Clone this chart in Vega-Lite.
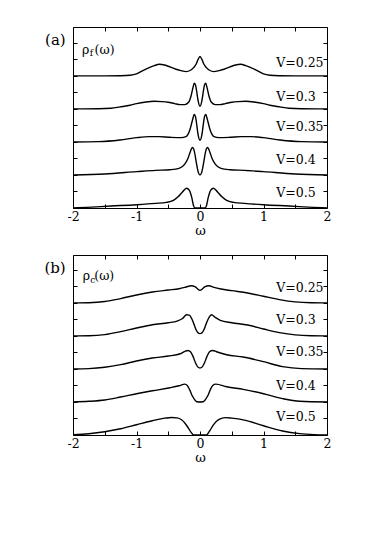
{
  "$schema": "https://vega.github.io/schema/vega-lite/v6.json",
  "autosize": {"type": "none"},
  "padding": {"left": 73, "top": 27, "right": 309, "bottom": 513},
  "background": "white",
  "config": {
    "view": {"stroke": null},
    "font": "DejaVu Serif",
    "text": {"font": "DejaVu Serif"},
    "axis": {
      "domainColor": "black", "domainWidth": 1, "tickColor": "black", "tickWidth": 1,
      "labelColor": "black", "titleColor": "black", "grid": false,
      "labelFont": "DejaVu Serif", "titleFont": "DejaVu Serif",
      "labelFontSize": 12.5, "titleFontSize": 13, "titleFontWeight": "normal",
      "tickSize": -4, "labelPadding": 6, "labelFlush": false, "labelOverlap": false, "labelBound": false
    }
  },
  "datasets": {
    "fcurves": [
      {"V":"0.25","w":-2,"y":4},{"V":"0.25","w":-1.5,"y":4},{"V":"0.25","w":-1.25,"y":4.005},{"V":"0.25","w":-1.1,"y":4.02},{"V":"0.25","w":-1.0,"y":4.06},{"V":"0.25","w":-0.9,"y":4.16},{"V":"0.25","w":-0.8,"y":4.25},{"V":"0.25","w":-0.72,"y":4.31},{"V":"0.25","w":-0.64,"y":4.35},{"V":"0.25","w":-0.56,"y":4.33},{"V":"0.25","w":-0.47,"y":4.27},{"V":"0.25","w":-0.38,"y":4.2},{"V":"0.25","w":-0.3,"y":4.16},{"V":"0.25","w":-0.22,"y":4.13},{"V":"0.25","w":-0.15,"y":4.17},{"V":"0.25","w":-0.1,"y":4.25},{"V":"0.25","w":-0.06,"y":4.36},{"V":"0.25","w":-0.03,"y":4.5},{"V":"0.25","w":0,"y":4.585},{"V":"0.25","w":0.03,"y":4.5},{"V":"0.25","w":0.06,"y":4.36},{"V":"0.25","w":0.1,"y":4.25},{"V":"0.25","w":0.15,"y":4.17},{"V":"0.25","w":0.22,"y":4.13},{"V":"0.25","w":0.3,"y":4.16},{"V":"0.25","w":0.38,"y":4.2},{"V":"0.25","w":0.47,"y":4.27},{"V":"0.25","w":0.56,"y":4.33},{"V":"0.25","w":0.64,"y":4.35},{"V":"0.25","w":0.72,"y":4.31},{"V":"0.25","w":0.8,"y":4.25},{"V":"0.25","w":0.9,"y":4.16},{"V":"0.25","w":1.0,"y":4.06},{"V":"0.25","w":1.1,"y":4.02},{"V":"0.25","w":1.25,"y":4.005},{"V":"0.25","w":1.5,"y":4},{"V":"0.25","w":2,"y":4},
      {"V":"0.3","w":-2,"y":3},{"V":"0.3","w":-1.6,"y":3.005},{"V":"0.3","w":-1.4,"y":3.02},{"V":"0.3","w":-1.26,"y":3.06},{"V":"0.3","w":-1.1,"y":3.11},{"V":"0.3","w":-1.0,"y":3.16},{"V":"0.3","w":-0.85,"y":3.21},{"V":"0.3","w":-0.72,"y":3.23},{"V":"0.3","w":-0.6,"y":3.22},{"V":"0.3","w":-0.5,"y":3.2},{"V":"0.3","w":-0.4,"y":3.16},{"V":"0.3","w":-0.31,"y":3.13},{"V":"0.3","w":-0.24,"y":3.13},{"V":"0.3","w":-0.18,"y":3.2},{"V":"0.3","w":-0.14,"y":3.4},{"V":"0.3","w":-0.11,"y":3.65},{"V":"0.3","w":-0.09,"y":3.78},{"V":"0.3","w":-0.07,"y":3.72},{"V":"0.3","w":-0.05,"y":3.5},{"V":"0.3","w":-0.03,"y":3.25},{"V":"0.3","w":0,"y":3.08},{"V":"0.3","w":0.03,"y":3.25},{"V":"0.3","w":0.05,"y":3.5},{"V":"0.3","w":0.07,"y":3.72},{"V":"0.3","w":0.09,"y":3.78},{"V":"0.3","w":0.11,"y":3.65},{"V":"0.3","w":0.14,"y":3.4},{"V":"0.3","w":0.18,"y":3.2},{"V":"0.3","w":0.24,"y":3.13},{"V":"0.3","w":0.31,"y":3.13},{"V":"0.3","w":0.4,"y":3.16},{"V":"0.3","w":0.5,"y":3.2},{"V":"0.3","w":0.6,"y":3.22},{"V":"0.3","w":0.72,"y":3.23},{"V":"0.3","w":0.85,"y":3.21},{"V":"0.3","w":1.0,"y":3.16},{"V":"0.3","w":1.1,"y":3.11},{"V":"0.3","w":1.26,"y":3.06},{"V":"0.3","w":1.4,"y":3.02},{"V":"0.3","w":1.6,"y":3.005},{"V":"0.3","w":2,"y":3},
      {"V":"0.35","w":-2,"y":2},{"V":"0.35","w":-1.6,"y":2.01},{"V":"0.35","w":-1.26,"y":2.06},{"V":"0.35","w":-1.0,"y":2.13},{"V":"0.35","w":-0.8,"y":2.16},{"V":"0.35","w":-0.65,"y":2.16},{"V":"0.35","w":-0.47,"y":2.14},{"V":"0.35","w":-0.3,"y":2.13},{"V":"0.35","w":-0.22,"y":2.16},{"V":"0.35","w":-0.16,"y":2.36},{"V":"0.35","w":-0.12,"y":2.65},{"V":"0.35","w":-0.09,"y":2.83},{"V":"0.35","w":-0.07,"y":2.76},{"V":"0.35","w":-0.05,"y":2.5},{"V":"0.35","w":-0.03,"y":2.22},{"V":"0.35","w":0,"y":2.05},{"V":"0.35","w":0.03,"y":2.22},{"V":"0.35","w":0.05,"y":2.5},{"V":"0.35","w":0.07,"y":2.76},{"V":"0.35","w":0.09,"y":2.83},{"V":"0.35","w":0.12,"y":2.65},{"V":"0.35","w":0.16,"y":2.36},{"V":"0.35","w":0.22,"y":2.16},{"V":"0.35","w":0.3,"y":2.13},{"V":"0.35","w":0.47,"y":2.14},{"V":"0.35","w":0.65,"y":2.16},{"V":"0.35","w":0.8,"y":2.16},{"V":"0.35","w":1.0,"y":2.13},{"V":"0.35","w":1.26,"y":2.06},{"V":"0.35","w":1.6,"y":2.01},{"V":"0.35","w":2,"y":2},
      {"V":"0.4","w":-2,"y":1},{"V":"0.4","w":-1.5,"y":1.03},{"V":"0.4","w":-1.0,"y":1.1},{"V":"0.4","w":-0.7,"y":1.14},{"V":"0.4","w":-0.47,"y":1.16},{"V":"0.4","w":-0.33,"y":1.2},{"V":"0.4","w":-0.24,"y":1.33},{"V":"0.4","w":-0.19,"y":1.5},{"V":"0.4","w":-0.15,"y":1.72},{"V":"0.4","w":-0.12,"y":1.83},{"V":"0.4","w":-0.09,"y":1.72},{"V":"0.4","w":-0.06,"y":1.4},{"V":"0.4","w":-0.03,"y":1.1},{"V":"0.4","w":0,"y":1.0},{"V":"0.4","w":0.03,"y":1.1},{"V":"0.4","w":0.06,"y":1.4},{"V":"0.4","w":0.09,"y":1.72},{"V":"0.4","w":0.12,"y":1.83},{"V":"0.4","w":0.15,"y":1.72},{"V":"0.4","w":0.19,"y":1.5},{"V":"0.4","w":0.24,"y":1.33},{"V":"0.4","w":0.33,"y":1.2},{"V":"0.4","w":0.47,"y":1.16},{"V":"0.4","w":0.7,"y":1.14},{"V":"0.4","w":1.0,"y":1.1},{"V":"0.4","w":1.5,"y":1.03},{"V":"0.4","w":2,"y":1},
      {"V":"0.5","w":-2,"y":0},{"V":"0.5","w":-1.78,"y":0.02},{"V":"0.5","w":-1.4,"y":0.06},{"V":"0.5","w":-1.0,"y":0.1},{"V":"0.5","w":-0.7,"y":0.14},{"V":"0.5","w":-0.53,"y":0.17},{"V":"0.5","w":-0.42,"y":0.23},{"V":"0.5","w":-0.35,"y":0.33},{"V":"0.5","w":-0.28,"y":0.48},{"V":"0.5","w":-0.21,"y":0.6},{"V":"0.5","w":-0.17,"y":0.54},{"V":"0.5","w":-0.13,"y":0.32},{"V":"0.5","w":-0.1,"y":0.06},{"V":"0.5","w":-0.08,"y":0},{"V":"0.5","w":0,"y":0},{"V":"0.5","w":0.08,"y":0},{"V":"0.5","w":0.1,"y":0.06},{"V":"0.5","w":0.13,"y":0.32},{"V":"0.5","w":0.17,"y":0.54},{"V":"0.5","w":0.21,"y":0.6},{"V":"0.5","w":0.28,"y":0.48},{"V":"0.5","w":0.35,"y":0.33},{"V":"0.5","w":0.42,"y":0.23},{"V":"0.5","w":0.53,"y":0.17},{"V":"0.5","w":0.7,"y":0.14},{"V":"0.5","w":1.0,"y":0.1},{"V":"0.5","w":1.4,"y":0.06},{"V":"0.5","w":1.78,"y":0.02},{"V":"0.5","w":2,"y":0}
    ],
    "ccurves": [
      {"V":"0.25","w":-2,"y":4},{"V":"0.25","w":-1.75,"y":4.005},{"V":"0.25","w":-1.5,"y":4.04},{"V":"0.25","w":-1.25,"y":4.13},{"V":"0.25","w":-1.0,"y":4.24},{"V":"0.25","w":-0.75,"y":4.33},{"V":"0.25","w":-0.5,"y":4.39},{"V":"0.25","w":-0.33,"y":4.43},{"V":"0.25","w":-0.22,"y":4.48},{"V":"0.25","w":-0.14,"y":4.52},{"V":"0.25","w":-0.08,"y":4.49},{"V":"0.25","w":-0.03,"y":4.41},{"V":"0.25","w":0,"y":4.38},{"V":"0.25","w":0.03,"y":4.41},{"V":"0.25","w":0.08,"y":4.49},{"V":"0.25","w":0.14,"y":4.52},{"V":"0.25","w":0.22,"y":4.47},{"V":"0.25","w":0.33,"y":4.42},{"V":"0.25","w":0.5,"y":4.37},{"V":"0.25","w":0.75,"y":4.3},{"V":"0.25","w":1.0,"y":4.2},{"V":"0.25","w":1.25,"y":4.1},{"V":"0.25","w":1.5,"y":4.03},{"V":"0.25","w":1.75,"y":4.005},{"V":"0.25","w":2,"y":4},
      {"V":"0.3","w":-2,"y":3},{"V":"0.3","w":-1.75,"y":3.005},{"V":"0.3","w":-1.5,"y":3.04},{"V":"0.3","w":-1.25,"y":3.13},{"V":"0.3","w":-1.0,"y":3.24},{"V":"0.3","w":-0.75,"y":3.34},{"V":"0.3","w":-0.5,"y":3.4},{"V":"0.3","w":-0.36,"y":3.45},{"V":"0.3","w":-0.28,"y":3.52},{"V":"0.3","w":-0.21,"y":3.64},{"V":"0.3","w":-0.17,"y":3.63},{"V":"0.3","w":-0.13,"y":3.52},{"V":"0.3","w":-0.1,"y":3.38},{"V":"0.3","w":-0.06,"y":3.18},{"V":"0.3","w":-0.03,"y":3.09},{"V":"0.3","w":0,"y":3.07},{"V":"0.3","w":0.03,"y":3.09},{"V":"0.3","w":0.06,"y":3.18},{"V":"0.3","w":0.1,"y":3.38},{"V":"0.3","w":0.14,"y":3.55},{"V":"0.3","w":0.18,"y":3.64},{"V":"0.3","w":0.24,"y":3.56},{"V":"0.3","w":0.32,"y":3.47},{"V":"0.3","w":0.5,"y":3.4},{"V":"0.3","w":0.75,"y":3.33},{"V":"0.3","w":1.0,"y":3.21},{"V":"0.3","w":1.25,"y":3.1},{"V":"0.3","w":1.5,"y":3.03},{"V":"0.3","w":1.75,"y":3.005},{"V":"0.3","w":2,"y":3},
      {"V":"0.35","w":-2,"y":2},{"V":"0.35","w":-1.75,"y":2.01},{"V":"0.35","w":-1.5,"y":2.05},{"V":"0.35","w":-1.25,"y":2.13},{"V":"0.35","w":-1.0,"y":2.24},{"V":"0.35","w":-0.75,"y":2.33},{"V":"0.35","w":-0.5,"y":2.39},{"V":"0.35","w":-0.31,"y":2.46},{"V":"0.35","w":-0.24,"y":2.53},{"V":"0.35","w":-0.19,"y":2.56},{"V":"0.35","w":-0.15,"y":2.52},{"V":"0.35","w":-0.11,"y":2.38},{"V":"0.35","w":-0.07,"y":2.18},{"V":"0.35","w":-0.03,"y":2.05},{"V":"0.35","w":0,"y":2.03},{"V":"0.35","w":0.03,"y":2.05},{"V":"0.35","w":0.07,"y":2.18},{"V":"0.35","w":0.11,"y":2.38},{"V":"0.35","w":0.15,"y":2.52},{"V":"0.35","w":0.2,"y":2.56},{"V":"0.35","w":0.26,"y":2.52},{"V":"0.35","w":0.42,"y":2.43},{"V":"0.35","w":0.68,"y":2.36},{"V":"0.35","w":1.0,"y":2.22},{"V":"0.35","w":1.3,"y":2.07},{"V":"0.35","w":1.6,"y":2.01},{"V":"0.35","w":2,"y":2},
      {"V":"0.4","w":-2,"y":1},{"V":"0.4","w":-1.75,"y":1.02},{"V":"0.4","w":-1.5,"y":1.06},{"V":"0.4","w":-1.25,"y":1.15},{"V":"0.4","w":-1.0,"y":1.25},{"V":"0.4","w":-0.75,"y":1.34},{"V":"0.4","w":-0.47,"y":1.43},{"V":"0.4","w":-0.33,"y":1.49},{"V":"0.4","w":-0.24,"y":1.54},{"V":"0.4","w":-0.2,"y":1.5},{"V":"0.4","w":-0.16,"y":1.36},{"V":"0.4","w":-0.12,"y":1.18},{"V":"0.4","w":-0.08,"y":1.06},{"V":"0.4","w":-0.05,"y":1.005},{"V":"0.4","w":0,"y":1},{"V":"0.4","w":0.05,"y":1.005},{"V":"0.4","w":0.08,"y":1.06},{"V":"0.4","w":0.12,"y":1.18},{"V":"0.4","w":0.16,"y":1.36},{"V":"0.4","w":0.2,"y":1.5},{"V":"0.4","w":0.25,"y":1.54},{"V":"0.4","w":0.42,"y":1.46},{"V":"0.4","w":0.68,"y":1.38},{"V":"0.4","w":1.0,"y":1.25},{"V":"0.4","w":1.3,"y":1.1},{"V":"0.4","w":1.57,"y":1.02},{"V":"0.4","w":2,"y":1},
      {"V":"0.5","w":-2,"y":0.01},{"V":"0.5","w":-1.75,"y":0.04},{"V":"0.5","w":-1.5,"y":0.1},{"V":"0.5","w":-1.25,"y":0.19},{"V":"0.5","w":-1.0,"y":0.31},{"V":"0.5","w":-0.75,"y":0.43},{"V":"0.5","w":-0.55,"y":0.51},{"V":"0.5","w":-0.45,"y":0.53},{"V":"0.5","w":-0.36,"y":0.52},{"V":"0.5","w":-0.29,"y":0.46},{"V":"0.5","w":-0.23,"y":0.34},{"V":"0.5","w":-0.18,"y":0.2},{"V":"0.5","w":-0.14,"y":0.08},{"V":"0.5","w":-0.11,"y":0.01},{"V":"0.5","w":-0.1,"y":0},{"V":"0.5","w":0,"y":0},{"V":"0.5","w":0.1,"y":0},{"V":"0.5","w":0.12,"y":0.03},{"V":"0.5","w":0.16,"y":0.15},{"V":"0.5","w":0.22,"y":0.33},{"V":"0.5","w":0.3,"y":0.47},{"V":"0.5","w":0.4,"y":0.525},{"V":"0.5","w":0.5,"y":0.51},{"V":"0.5","w":0.7,"y":0.45},{"V":"0.5","w":1.0,"y":0.28},{"V":"0.5","w":1.3,"y":0.12},{"V":"0.5","w":1.57,"y":0.04},{"V":"0.5","w":1.8,"y":0.01},{"V":"0.5","w":2,"y":0}
    ]
  },
  "spacing": 47,
  "bounds": "flush",
  "vconcat": [
    {
      "width": 254, "height": 181,
      "resolve": {"axis": {"x": "independent", "y": "independent"}},
      "layer": [
        {
          "data": {"name": "fcurves"},
          "mark": {"type": "line", "interpolate": "monotone", "color": "black", "strokeWidth": 1.4},
          "encoding": {
            "x": {"field": "w", "type": "quantitative", "scale": {"domain": [-2, 2], "nice": false, "zero": false},
                  "axis": {"orient": "bottom", "title": "ω", "titlePadding": 2, "values": [-2,-1.5,-1,-0.5,0,0.5,1,1.5,2],
                           "labelExpr": "datum.value % 1 === 0 ? (datum.value < 0 ? '-' + abs(datum.value) : '' + datum.value) : ''"}},
            "y": {"field": "y", "type": "quantitative", "scale": {"domain": [0, 5.48], "nice": false, "zero": false},
                  "axis": {"orient": "left", "title": null, "labels": false, "values": [0.5,1,1.5,2,2.5,3,3.5,4,4.5,5]}},
            "detail": {"field": "V", "type": "nominal"}
          }
        },
        {
          "data": {"values": [
            {"w": 1.2, "y": 4.39, "label": "V=0.25"},
            {"w": 1.2, "y": 3.37, "label": "V=0.3"},
            {"w": 1.2, "y": 2.45, "label": "V=0.35"},
            {"w": 1.2, "y": 1.45, "label": "V=0.4"},
            {"w": 1.2, "y": 0.46, "label": "V=0.5"}
          ]},
          "mark": {"type": "text", "align": "left", "baseline": "middle", "fontSize": 12.5, "font": "DejaVu Serif", "color": "black"},
          "encoding": {
            "x": {"field": "w", "type": "quantitative", "scale": {"domain": [-2, 2], "nice": false, "zero": false},
                  "axis": {"orient": "top", "title": null, "labels": false, "values": [-2,-1.5,-1,-0.5,0,0.5,1,1.5,2]}},
            "y": {"field": "y", "type": "quantitative", "scale": {"domain": [0, 5.48], "nice": false, "zero": false},
                  "axis": {"orient": "right", "title": null, "labels": false, "values": [0.5,1,1.5,2,2.5,3,3.5,4,4.5,5]}},
            "text": {"field": "label"}
          }
        },
        {
          "data": {"values": [{"w": -2.115, "y": 5.09, "label": "(a)"}]},
          "mark": {"type": "text", "align": "right", "baseline": "middle", "fontSize": 15, "font": "DejaVu Serif", "color": "black"},
          "encoding": {
            "x": {"field": "w", "type": "quantitative", "scale": {"domain": [-2, 2], "nice": false, "zero": false}, "axis": null},
            "y": {"field": "y", "type": "quantitative", "scale": {"domain": [0, 5.48], "nice": false, "zero": false}, "axis": null},
            "text": {"field": "label"}
          }
        },
        {
          "data": {"values": [{"w": -1.86, "y": 4.79, "label": "ρ"}, {"w": -1.66, "y": 4.79, "label": "(ω)"}]},
          "mark": {"type": "text", "align": "left", "baseline": "middle", "fontSize": 12.5, "font": "DejaVu Serif", "color": "black"},
          "encoding": {
            "x": {"field": "w", "type": "quantitative", "scale": {"domain": [-2, 2], "nice": false, "zero": false}, "axis": null},
            "y": {"field": "y", "type": "quantitative", "scale": {"domain": [0, 5.48], "nice": false, "zero": false}, "axis": null},
            "text": {"field": "label"}
          }
        },
        {
          "data": {"values": [{"w": -1.735, "y": 4.69, "label": "f"}]},
          "mark": {"type": "text", "align": "left", "baseline": "middle", "fontSize": 9, "font": "DejaVu Serif", "color": "black"},
          "encoding": {
            "x": {"field": "w", "type": "quantitative", "scale": {"domain": [-2, 2], "nice": false, "zero": false}, "axis": null},
            "y": {"field": "y", "type": "quantitative", "scale": {"domain": [0, 5.48], "nice": false, "zero": false}, "axis": null},
            "text": {"field": "label"}
          }
        }
      ]
    },
    {
      "width": 254, "height": 180,
      "resolve": {"axis": {"x": "independent", "y": "independent"}},
      "layer": [
        {
          "data": {"name": "ccurves"},
          "mark": {"type": "line", "interpolate": "monotone", "color": "black", "strokeWidth": 1.4},
          "encoding": {
            "x": {"field": "w", "type": "quantitative", "scale": {"domain": [-2, 2], "nice": false, "zero": false},
                  "axis": {"orient": "bottom", "title": "ω", "titlePadding": 2, "values": [-2,-1.5,-1,-0.5,0,0.5,1,1.5,2],
                           "labelExpr": "datum.value % 1 === 0 ? (datum.value < 0 ? '-' + abs(datum.value) : '' + datum.value) : ''"}},
            "y": {"field": "y", "type": "quantitative", "scale": {"domain": [0, 5.45], "nice": false, "zero": false},
                  "axis": {"orient": "left", "title": null, "labels": false, "values": [0.5,1,1.5,2,2.5,3,3.5,4,4.5,5]}},
            "detail": {"field": "V", "type": "nominal"}
          }
        },
        {
          "data": {"values": [
            {"w": 1.2, "y": 4.45, "label": "V=0.25"},
            {"w": 1.2, "y": 3.48, "label": "V=0.3"},
            {"w": 1.2, "y": 2.52, "label": "V=0.35"},
            {"w": 1.2, "y": 1.49, "label": "V=0.4"},
            {"w": 1.2, "y": 0.55, "label": "V=0.5"}
          ]},
          "mark": {"type": "text", "align": "left", "baseline": "middle", "fontSize": 12.5, "font": "DejaVu Serif", "color": "black"},
          "encoding": {
            "x": {"field": "w", "type": "quantitative", "scale": {"domain": [-2, 2], "nice": false, "zero": false},
                  "axis": {"orient": "top", "title": null, "labels": false, "values": [-2,-1.5,-1,-0.5,0,0.5,1,1.5,2]}},
            "y": {"field": "y", "type": "quantitative", "scale": {"domain": [0, 5.45], "nice": false, "zero": false},
                  "axis": {"orient": "right", "title": null, "labels": false, "values": [0.5,1,1.5,2,2.5,3,3.5,4,4.5,5]}},
            "text": {"field": "label"}
          }
        },
        {
          "data": {"values": [{"w": -2.115, "y": 5.05, "label": "(b)"}]},
          "mark": {"type": "text", "align": "right", "baseline": "middle", "fontSize": 15, "font": "DejaVu Serif", "color": "black"},
          "encoding": {
            "x": {"field": "w", "type": "quantitative", "scale": {"domain": [-2, 2], "nice": false, "zero": false}, "axis": null},
            "y": {"field": "y", "type": "quantitative", "scale": {"domain": [0, 5.45], "nice": false, "zero": false}, "axis": null},
            "text": {"field": "label"}
          }
        },
        {
          "data": {"values": [{"w": -1.845, "y": 4.8, "label": "ρ"}, {"w": -1.665, "y": 4.8, "label": "(ω)"}]},
          "mark": {"type": "text", "align": "left", "baseline": "middle", "fontSize": 12.5, "font": "DejaVu Serif", "color": "black"},
          "encoding": {
            "x": {"field": "w", "type": "quantitative", "scale": {"domain": [-2, 2], "nice": false, "zero": false}, "axis": null},
            "y": {"field": "y", "type": "quantitative", "scale": {"domain": [0, 5.45], "nice": false, "zero": false}, "axis": null},
            "text": {"field": "label"}
          }
        },
        {
          "data": {"values": [{"w": -1.728, "y": 4.7, "label": "c"}]},
          "mark": {"type": "text", "align": "left", "baseline": "middle", "fontSize": 9, "font": "DejaVu Serif", "color": "black"},
          "encoding": {
            "x": {"field": "w", "type": "quantitative", "scale": {"domain": [-2, 2], "nice": false, "zero": false}, "axis": null},
            "y": {"field": "y", "type": "quantitative", "scale": {"domain": [0, 5.45], "nice": false, "zero": false}, "axis": null},
            "text": {"field": "label"}
          }
        }
      ]
    }
  ]
}
